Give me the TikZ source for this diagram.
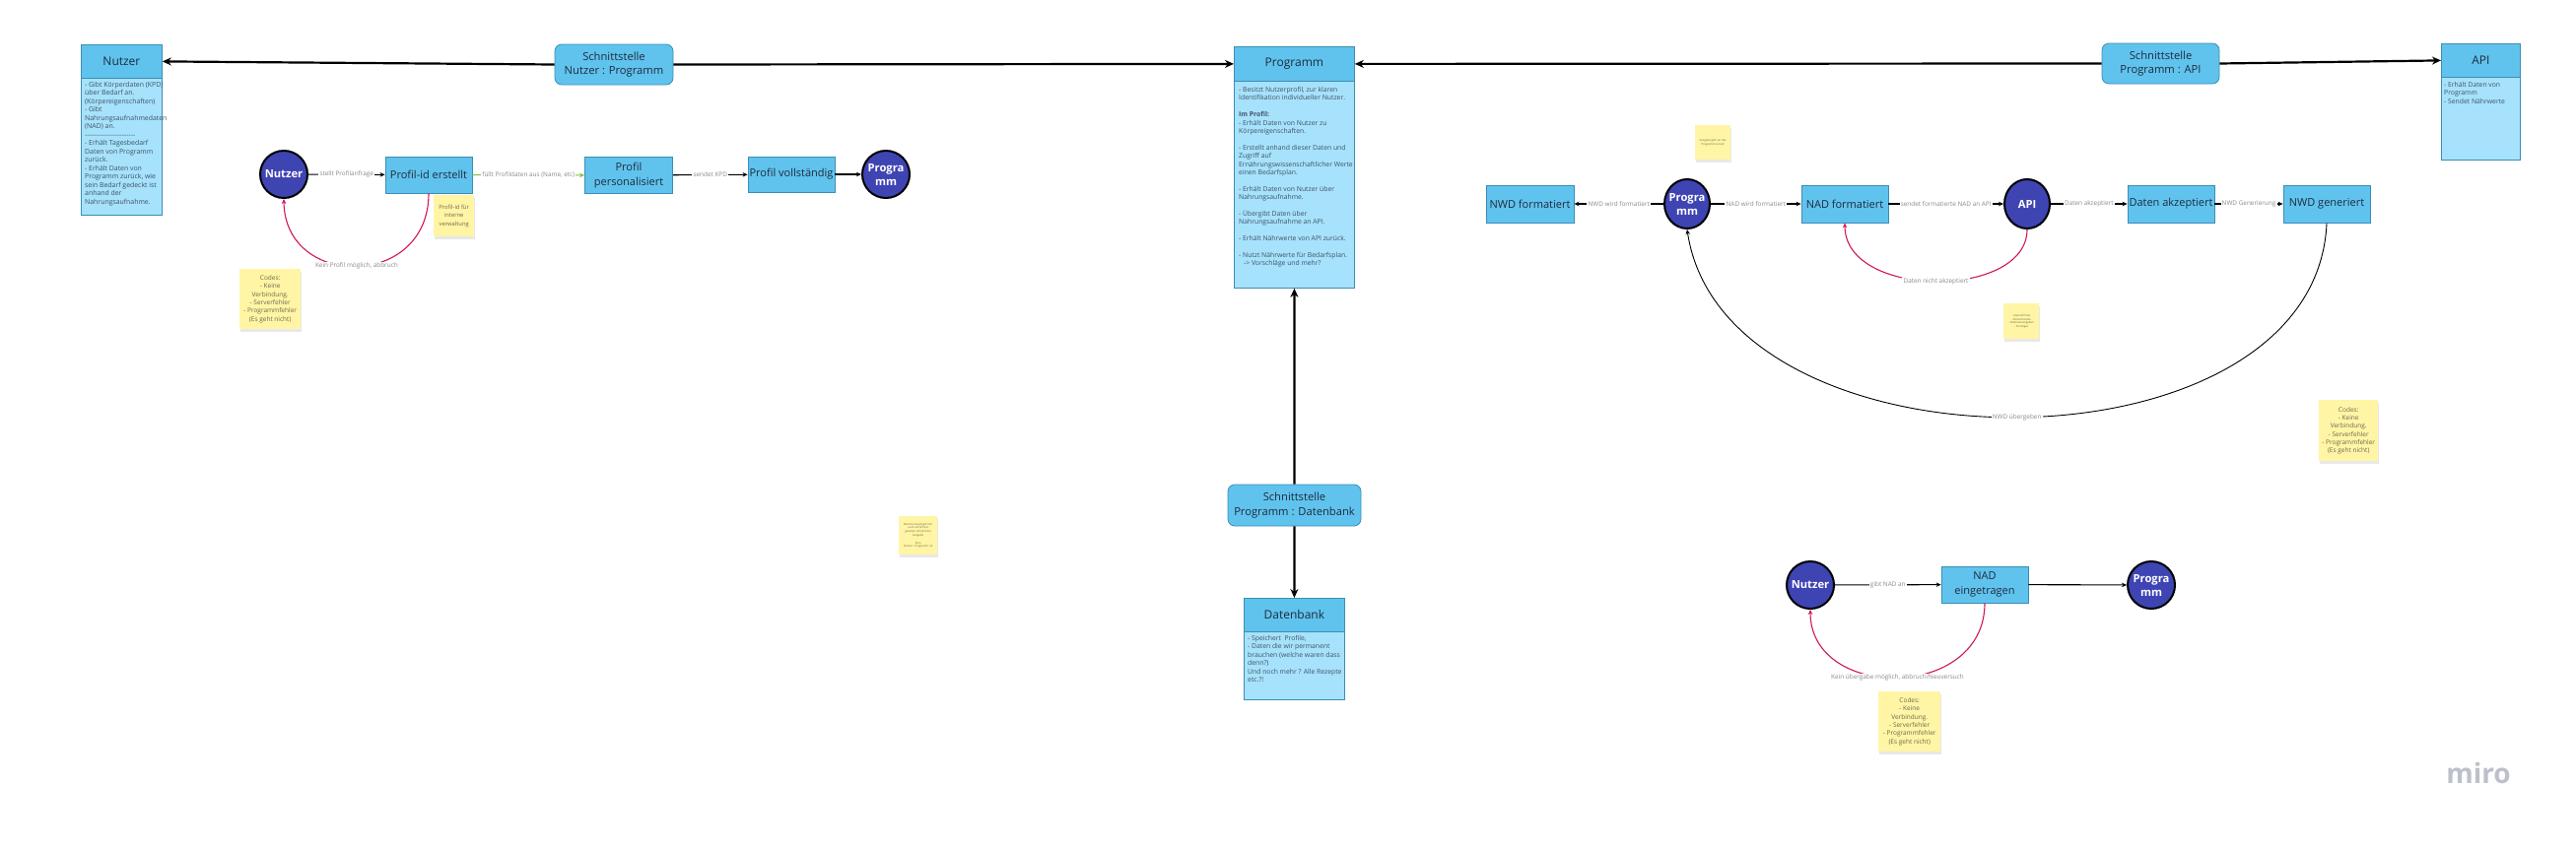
\documentclass[tikz,border=0pt]{standalone}
\usepackage{fontspec}
\setmainfont{Open Sans}
\usetikzlibrary{arrows.meta,shapes.geometric,shadows}

\definecolor{cBox}{HTML}{60C3EE}
\definecolor{cBorder}{HTML}{3B8EB4}
\definecolor{cBody}{HTML}{A6E2FB}
\definecolor{cCirc}{HTML}{3F44B3}
\definecolor{cRed}{HTML}{CF1660}
\definecolor{cGreen}{HTML}{7CC442}
\definecolor{cSticky}{HTML}{FFF5A5}
\definecolor{cStickyTxt}{HTML}{6E6850}
\definecolor{cLab}{HTML}{8A8A8A}
\definecolor{cTxt}{HTML}{1E2B3C}
\definecolor{cBodyTxt}{HTML}{3E5266}
\definecolor{cMiro}{HTML}{BCC0CA}

\tikzset{
 hdr/.style={draw=cBorder, fill=cBox, line width=0.8pt, inner sep=0pt, text=cTxt, font=\fontsize{12}{14}\selectfont, anchor=north west},
 crd/.style={draw=cBorder, fill=cBody, line width=0.8pt, inner sep=0pt, anchor=north west},
 crdtxt/.style={anchor=north west, inner sep=0pt, align=left, text=cBodyTxt, font=\fontsize{6.8}{8.4}\selectfont},
 iface/.style={draw=cBorder, fill=cBox, line width=0.8pt, rounded corners=7pt, align=center, text=cTxt, font=\fontsize{11.2}{14.5}\selectfont, inner sep=0pt},
 pbox/.style={draw=cBorder, fill=cBox, line width=0.8pt, minimum width=88pt, minimum height=37pt, inner sep=1pt, align=center, text=cTxt, font=\fontsize{11}{14.5}\selectfont},
 circ/.style={ellipse, draw=black, line width=2pt, fill=cCirc, minimum width=48pt, minimum height=48pt, inner sep=-5pt, align=center, text=white, font=\bfseries\fontsize{11.2}{14}\selectfont},
 lab/.style={fill=white, text=cLab, inner sep=1.2pt, font=\fontsize{6.4}{7.5}\selectfont},
 conn/.style={draw=black, line width=1.1pt, -{Stealth[length=5pt,width=4.5pt]}},
 bigconn/.style={draw=black, line width=2.2pt, -{Stealth[length=9pt,width=8pt]}},
 redconn/.style={draw=cRed, line width=1.1pt, -{Stealth[length=5pt,width=4.5pt]}},
 sticky/.style={fill=cSticky, inner sep=0pt, anchor=north west, drop shadow={opacity=0.18, shadow xshift=1pt, shadow yshift=-3pt}},
 stxt/.style={align=center, text=cStickyTxt, inner sep=0pt, font=\fontsize{6.5}{8.3}\selectfont},
 tinytxt/.style={align=center, text=cStickyTxt, inner sep=0pt, font=\fontsize{2.8}{3.8}\selectfont},
}

\begin{document}
\begin{tikzpicture}[x=1pt,y=-1pt]
\fill[white] (0,0) rectangle (2614,860);
\useasboundingbox (0,0) rectangle (2614,860);

% ---------- Cards ----------
% Nutzer card
\node[crd, minimum width=82pt, minimum height=139pt] (nutzb) at (82,79) {};
\node[hdr, minimum width=82pt, minimum height=34pt] (nutzh) at (82,45) {Nutzer};
\node[crdtxt, font=\fontsize{6.9}{8.5}\selectfont] (nutzt) at (86,83) {- Gibt Körperdaten (KPD)\\über Bedarf an.\\(Körpereigenschaften)\\- Gibt\\Nahrungsaufnahmedaten\\(NAD) an.\\-{}-{}-{}-{}-{}-{}-{}-{}-{}-{}-{}-{}-{}-{}-{}-{}-{}-{}-{}-{}-{}-{}-\\- Erhält Tagesbedarf\\Daten von Programm\\zurück.\\- Erhält Daten von\\Programm zurück, wie\\sein Bedarf gedeckt ist\\anhand der\\Nahrungsaufnahme.};

% Programm card
\node[crd, minimum width=122pt, minimum height=210pt] (progb) at (1252,82) {};
\node[hdr, minimum width=122pt, minimum height=35pt] (progh) at (1252,47) {Programm};
\node[crdtxt] (progt) at (1257,88) {- Besitzt Nutzerprofil, zur klaren\\Identifikation individueller Nutzer.\\[8.4pt]\textbf{Im Profil:}\\- Erhält Daten von Nutzer zu\\Körpereigenschaften.\\[8.4pt]- Erstellt anhand dieser Daten und\\Zugriff auf\\Ernährungswissenschaftlicher Werte\\einen Bedarfsplan.\\[8.4pt]- Erhält Daten von Nutzer über\\Nahrungsaufnahme.\\[8.4pt]- Übergibt Daten über\\Nahrungsaufnahme an API.\\[8.4pt]- Erhält Nährwerte von API zurück.\\[8.4pt]- Nutzt Nährwerte für Bedarfsplan.\\\hspace*{5pt}-> Vorschläge und mehr?};

% API card
\node[crd, minimum width=80pt, minimum height=84pt] (apib) at (2477,78) {};
\node[hdr, minimum width=80pt, minimum height=34pt] (apih) at (2477,44) {API};
\node[crdtxt] (apit) at (2480,83) {- Erhält Daten von\\Programm\\- Sendet Nährwerte};

% Datenbank card
\node[crd, minimum width=102pt, minimum height=69pt] (dbb) at (1262,641) {};
\node[hdr, minimum width=102pt, minimum height=34pt] (dbh) at (1262,607) {Datenbank};
\node[crdtxt] (dbt) at (1266,645) {- Speichert\ \ Profile,\\- Daten die wir permanent\\brauchen (welche waren dass\\denn?)\\Und noch mehr ? Alle Rezepte\\etc.?!};

% ---------- Interfaces ----------
\node[iface, minimum width=120pt, minimum height=41pt] (snp) at (623,65.5) {Schnittstelle\\Nutzer : Programm};
\node[iface, minimum width=119pt, minimum height=41pt] (sapi) at (2192.5,64.5) {Schnittstelle\\Programm : API};
\node[iface, minimum width=135pt, minimum height=42pt] (sdb) at (1313.5,513) {Schnittstelle\\Programm : Datenbank};

\draw[bigconn] (snp.west) -- (nutzh.east);
\draw[bigconn] (snp.east) -- (progh.west);
\draw[bigconn] (sapi.west) -- (progh.east);
\draw[bigconn] (sapi.east) -- (apih.west);
\draw[bigconn] (sdb.north) -- (progb.south);
\draw[bigconn] (sdb.south) -- (dbh.north);

% ---------- Row 1 (Profil) ----------
\node[circ] (nutz1) at (288,177) {Nutzer};
\node[pbox] (pid) at (435,177.5) {Profil-id erstellt};
\node[pbox, minimum width=89pt] (ppers) at (638,178) {Profil\\personalisiert};
\node[pbox, minimum height=36pt] (pvoll) at (803,177) {Profil vollständig};
\node[circ] (prog1) at (899,177) {Progra\\mm};

\draw[conn] (nutz1) -- node[lab]{stellt Profilanfrage} (pid);
\draw[conn, draw=cGreen] (pid) -- node[lab]{füllt Profildaten aus (Name, etc)} (ppers);
\draw[conn] (ppers) -- node[lab]{sendet KPD} (pvoll);
\draw[conn] (pvoll) -- (prog1);
\draw[redconn] (pid.south) .. controls (435,294) and (289,294) .. node[lab, pos=0.5]{Kein Profil möglich, abbruch} (nutz1.south);

\node[sticky, minimum width=41pt, minimum height=42pt] (s1) at (440,198) {};
\node[stxt, font=\fontsize{5.8}{8.7}\selectfont] at (s1.center) {Profil-id für\\interne\\verwaltung};

\node[sticky, minimum width=62pt, minimum height=61pt] (s2) at (243,273) {};
\node[stxt] at (s2.center) {Codes:\\- Keine\\Verbindung.\\- Serverfehler\\- Programmfehler\\(Es geht nicht)};

\node[sticky, minimum width=39pt, minimum height=39pt] (s3) at (912,524) {};
\node[tinytxt] at (s3.center) {Berechnungslogik hier\\auch als Verlust\\gesehen anhand der\\Ausgabe\\[3.8pt]Also\\Nutzer : Programm ok};

% ---------- Row 2 (API) ----------
\node[pbox, minimum width=89pt, minimum height=38pt] (nwdf) at (1552.5,207) {NWD formatiert};
\node[circ, minimum width=46pt, minimum height=50pt] (prog2) at (1712,207) {Progra\\mm};
\node[pbox, minimum height=38pt] (nadf) at (1872,207) {NAD formatiert};
\node[circ, minimum width=46pt, minimum height=50pt] (api2) at (2057,207) {API};
\node[pbox, minimum height=38pt] (dakz) at (2203,207) {Daten akzeptiert};
\node[pbox, minimum height=38pt] (nwdg) at (2361,207) {NWD generiert};

\draw[conn] (prog2) -- node[lab]{NWD wird formatiert} (nwdf);
\draw[conn] (prog2) -- node[lab]{NAD wird formatiert} (nadf);
\draw[conn] (nadf) -- node[lab]{sendet formatierte NAD an API} (api2);
\draw[conn] (api2) -- node[lab]{Daten akzeptiert} (dakz);
\draw[conn] (dakz) -- node[lab]{NWD Generierung} (nwdg);
\draw[redconn] (api2.south) .. controls (2057,304) and (1872,304) .. node[lab, pos=0.5]{Daten nicht akzeptiert} (nadf.south);
\draw[conn, line width=0.9pt] (nwdg.south) .. controls (2350,488) and (1750,488) .. node[lab, pos=0.5]{NWD übergeben} (prog2.south);

\node[sticky, minimum width=36pt, minimum height=35pt] (s4) at (1720,127) {};
\node[tinytxt] at (s4.center) {Ausgabe geht an das\\Programm zurück};

\node[sticky, minimum width=36pt, minimum height=36pt] (s5) at (2033,308) {};
\node[tinytxt] at (s5.center) {- Datenformat\\- Antwortzeiten\\- Nährwertangaben\\- Sonstiges};

\node[sticky, minimum width=60pt, minimum height=62pt] (s6) at (2353,406) {};
\node[stxt] at (s6.center) {Codes:\\- Keine\\Verbindung.\\- Serverfehler\\- Programmfehler\\(Es geht nicht)};

% ---------- Row 3 (NAD) ----------
\node[circ] (nutz3) at (1837,594) {Nutzer};
\node[pbox] (nadein) at (2014,593.5) {NAD\\eingetragen};
\node[circ] (prog3) at (2183,594) {Progra\\mm};

\draw[conn] (nutz3) -- node[lab]{gibt NAD an} (nadein);
\draw[conn] (nadein) -- (prog3);
\draw[redconn] (nadein.south) .. controls (2014,712) and (1837,712) .. node[lab, pos=0.5]{Kein übergabe möglich, abbruch/Neuversuch} (nutz3.south);

\node[sticky, minimum width=63pt, minimum height=61pt] (s7) at (1906,702) {};
\node[stxt] at (s7.center) {Codes:\\- Keine\\Verbindung.\\- Serverfehler\\- Programmfehler\\(Es geht nicht)};

% ---------- miro ----------
\node[text=cMiro, inner sep=0pt, font=\bfseries\fontsize{28}{30}\selectfont] (miro) at (2515,785) {miro};
\end{tikzpicture}
\end{document}
